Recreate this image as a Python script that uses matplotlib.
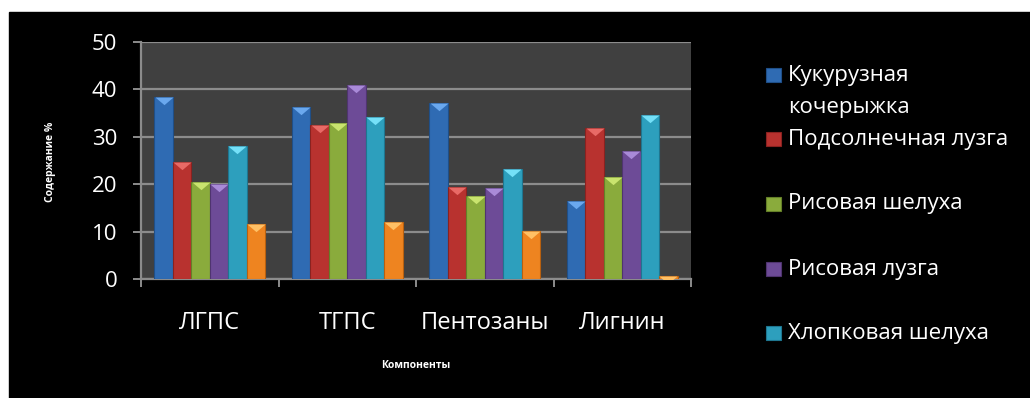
import matplotlib
matplotlib.use('Agg')
import matplotlib.pyplot as plt
import numpy as np
from matplotlib.patches import Rectangle
from matplotlib.path import Path

plt.rcParams['font.family'] = ['Open Sans', 'DejaVu Sans']

# Данные
kategorii = ['ЛГПС', 'ТГПС', 'Пентозаны', 'Лигнин']
serii = ['Кукурузная\nкочерыжка', 'Подсолнечная лузга', 'Рисовая шелуха',
         'Рисовая лузга', 'Хлопковая шелуха', None]
kukuruza = [38.5, 36.2, 37.1, 16.5]
podsolnechnik = [24.7, 32.4, 19.4, 31.9]
ris_shelukha = [20.4, 33.0, 17.5, 21.6]
ris_luzga = [20.1, 40.9, 19.2, 27.0]
khlopok = [28.0, 34.1, 23.2, 34.6]
shestoi = [11.5, 12.1, 10.2, 0.6]
dannye = [kukuruza, podsolnechnik, ris_shelukha, ris_luzga, khlopok, shestoi]

tsveta = ['#2f6bb3', '#b8322f', '#8aab3c', '#6d4b97', '#2d9fbd', '#ee8420']
kryshki = ['#6aa8ee', '#e86a66', '#c9e46e', '#a98ad8', '#74e0f8', '#ffc065']
kraya = ['#1f4f88', '#8a2220', '#647f28', '#4f346f', '#1e7690', '#b8600f']

W, H = 1030, 398
fig = plt.figure(figsize=(W / 100, H / 100), dpi=100, facecolor='white')
fig.patches.append(Rectangle((9 / W, 0), 1 - 9 / W, (H - 12) / H,
                             transform=fig.transFigure, color='black', zorder=-10))

ax = fig.add_axes([141 / W, 119 / H, 550 / W, 237 / H])
ax.set_facecolor('#404040')

x = np.arange(len(kategorii))
shirina = 0.1345
# треугольная "крышка" бара
kryshka_path = Path([(-1, 0), (1, 0), (0, -0.85), (-1, 0)],
                    [Path.MOVETO, Path.LINETO, Path.LINETO, Path.CLOSEPOLY])
for i, vals in enumerate(dannye):
    pos = x + (i - 2.5) * shirina
    ax.bar(pos, vals, width=shirina, color=tsveta[i], edgecolor=kraya[i],
           linewidth=0.8, zorder=3)
    ax.plot(pos, vals, linestyle='none', marker=kryshka_path, markersize=13,
            color=kryshki[i], markeredgewidth=0, zorder=4)

ax.set_xlim(-0.5, 3.5)
ax.set_ylim(0, 50)
ax.set_yticks(range(0, 51, 10))
ax.yaxis.grid(True, color='#8c8c8c', linewidth=1.6, zorder=1)
ax.set_axisbelow(True)

for s in ['top', 'right']:
    ax.spines[s].set_visible(False)
for s in ['left', 'bottom']:
    ax.spines[s].set_color('#8c8c8c')
    ax.spines[s].set_linewidth(1.6)

ax.tick_params(axis='y', colors='#8c8c8c', length=6, width=1.4, pad=11,
               labelcolor='white', labelsize=16)
ax.set_xticks(np.arange(-0.5, 4, 1))
ax.set_xticklabels([])
ax.set_xticks(x, minor=True)
ax.set_xticklabels(kategorii, minor=True)
ax.tick_params(axis='x', which='major', colors='#8c8c8c', length=6, width=1.4)
ax.tick_params(axis='x', which='minor', length=0, pad=23, labelcolor='white',
               labelsize=17)

fig.text(416 / W, 1 - 365 / H, 'Компоненты', color='white', fontsize=7.5,
         fontweight='bold', ha='center', va='center')
fig.text(50 / W, 1 - 162 / H, 'Содержание %', color='white', fontsize=7.5,
         fontweight='bold', rotation=90, ha='center', va='center')

# легенда вручную (последняя серия обрезана в оригинале)
leg_y = [75, 139, 204, 269, 333]
for i, y in enumerate(leg_y):
    fig.patches.append(Rectangle((766 / W, 1 - (y + 7) / H), 15 / W, 14 / H,
                                 transform=fig.transFigure, facecolor=tsveta[i],
                                 edgecolor=kraya[i], linewidth=0.8))
    stroki = serii[i].split('\n')
    for k, s in enumerate(stroki):
        fig.text(788 / W, 1 - (y + 32 * k) / H, s, color='white',
                 fontsize=16, ha='left', va='center')

fig.savefig('out.png', dpi=100, facecolor=fig.get_facecolor())
